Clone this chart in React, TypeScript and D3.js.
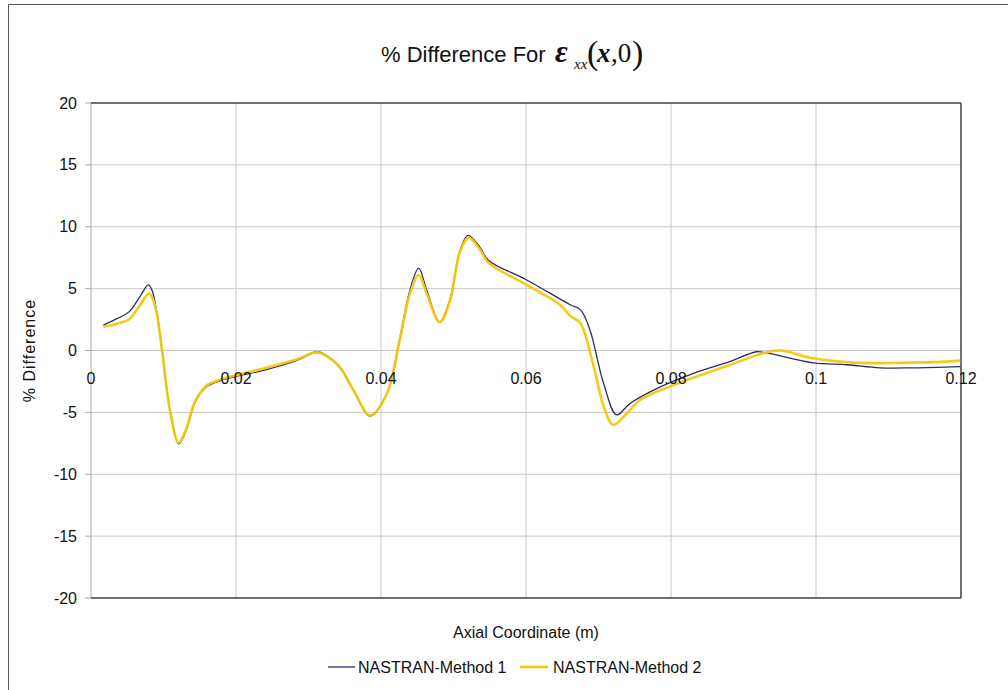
import React from "react";
import * as d3 from "d3";

// Axial coordinate (m) and % difference for each method
const method1X = [0.0017, 0.0035, 0.0052, 0.0068, 0.0079, 0.0084, 0.0091, 0.0098, 0.011, 0.0121, 0.0131, 0.0143, 0.0158, 0.0178, 0.02, 0.0238, 0.0284, 0.0311, 0.0325, 0.0343, 0.0362, 0.0385, 0.0408, 0.0426, 0.044, 0.0452, 0.0463, 0.0481, 0.0495, 0.0509, 0.052, 0.0537, 0.0548, 0.0601, 0.0661, 0.0675, 0.0688, 0.0707, 0.0725, 0.0743, 0.0776, 0.0831, 0.0881, 0.0918, 0.0932, 0.0996, 0.1043, 0.1088, 0.1134, 0.1199];
const method1Y = [2.05, 2.55, 3.1, 4.4, 5.3, 4.9, 3.0, 0.0, -5.2, -7.55, -6.5, -4.27, -3.0, -2.45, -2.1, -1.6, -0.8, -0.1, -0.4, -1.3, -3.2, -5.3, -3.5, 1.0, 4.9, 6.65, 4.9, 2.3, 4.1, 8.1, 9.3, 8.3, 7.3, 5.7, 3.7, 3.3, 1.7, -2.65, -5.2, -4.3, -3.2, -1.85, -0.9, -0.1, -0.2, -1.0, -1.15, -1.4, -1.4, -1.3];

const method2X = [0.0017, 0.0035, 0.0052, 0.0068, 0.008, 0.0085, 0.0091, 0.0098, 0.011, 0.0121, 0.0131, 0.0143, 0.0158, 0.0178, 0.02, 0.0238, 0.0284, 0.0311, 0.0325, 0.0343, 0.0362, 0.0385, 0.0408, 0.0426, 0.044, 0.0452, 0.0463, 0.0481, 0.0495, 0.0509, 0.0521, 0.0537, 0.0548, 0.0601, 0.0647, 0.0661, 0.0675, 0.0693, 0.0707, 0.072, 0.0739, 0.0757, 0.0803, 0.0881, 0.0927, 0.095, 0.0996, 0.1051, 0.1118, 0.118, 0.1199];
const method2Y = [1.92, 2.15, 2.5, 3.7, 4.6, 4.2, 2.9, 0.0, -5.2, -7.45, -6.4, -4.2, -2.9, -2.35, -2.0, -1.45, -0.7, -0.15, -0.45, -1.35, -3.2, -5.25, -3.5, 0.9, 4.6, 6.1, 4.6, 2.3, 4.0, 8.0, 9.1, 8.1, 7.1, 5.3, 3.7, 2.8, 2.2, -1.2, -4.5, -6.0, -5.1, -4.0, -2.8, -1.17, -0.23, 0.0, -0.63, -0.98, -1.0, -0.9, -0.82];

const xTicks = [0, 0.02, 0.04, 0.06, 0.08, 0.1, 0.12];
const xTickLabels = ["0", "0.02", "0.04", "0.06", "0.08", "0.1", "0.12"];
const yTicks = [20, 15, 10, 5, 0, -5, -10, -15, -20];

const seriesNames = ["NASTRAN-Method 1", "NASTRAN-Method 2"];
const seriesColors = ["#2b2d6b", "#f2c80c"];

const W = 1008;
const H = 690;
const plot = { left: 91, right: 961, top: 103, bottom: 598 };
const sans = "'Liberation Sans', Arial, sans-serif";
const serif = "'Liberation Serif', 'Times New Roman', serif";

export default function App() {
  const x = d3.scaleLinear().domain([0, 0.12]).range([plot.left, plot.right]);
  const y = d3.scaleLinear().domain([-20, 20]).range([plot.bottom, plot.top]);

  const line = d3
    .line<[number, number]>()
    .x((d) => x(d[0]))
    .y((d) => y(d[1]))
    .curve(d3.curveCatmullRom.alpha(0.5));

  const s1 = method1X.map((v, i) => [v, method1Y[i]] as [number, number]);
  const s2 = method2X.map((v, i) => [v, method2Y[i]] as [number, number]);

  return (
    <svg
      width={W}
      height={H}
      style={{ position: "absolute", left: 0, top: 0, background: "#fff" }}
    >
      <rect x={0} y={0} width={W} height={H} fill="#fff" />
      {/* chart area frame */}
      <line x1={8.5} y1={4.5} x2={8.5} y2={H} stroke="#555" strokeWidth={1} />
      <line x1={8.5} y1={4.5} x2={W} y2={4.5} stroke="#555" strokeWidth={1} />

      {/* title */}
      <text x={381} y={62} fontFamily={sans} fontSize={22} fill="#111">
        % Difference For
      </text>
      <text x={555} y={62} fontFamily={serif} fontSize={31} fontWeight="bold" fontStyle="italic" fill="#111">
        ε
      </text>
      <text x={574} y={69} fontFamily={serif} fontSize={15} fontStyle="italic" fill="#111">
        xx
      </text>
      <text x={587} y={64} fontFamily={serif} fontSize={34} fill="#111">
        (
      </text>
      <text x={597} y={62} fontFamily={serif} fontSize={27} fontWeight="bold" fontStyle="italic" fill="#111">
        x
      </text>
      <text x={611} y={62} fontFamily={serif} fontSize={27} fill="#111">
        ,0
      </text>
      <text x={632} y={64} fontFamily={serif} fontSize={34} fill="#111">
        )
      </text>

      {/* gridlines */}
      {yTicks
        .filter((t) => t !== 20 && t !== -20)
        .map((t) => (
          <line key={"gy" + t} x1={plot.left} x2={plot.right} y1={y(t)} y2={y(t)} stroke="#c8c8c8" strokeWidth={1} />
        ))}
      {xTicks
        .filter((t) => t !== 0 && t !== 0.12)
        .map((t) => (
          <line key={"gx" + t} x1={x(t)} x2={x(t)} y1={plot.top} y2={plot.bottom} stroke="#c8c8c8" strokeWidth={1} />
        ))}

      {/* y axis line and ticks */}
      <line x1={plot.left} x2={plot.left} y1={plot.top} y2={plot.bottom} stroke="#a8a8a8" strokeWidth={1} />
      {yTicks.map((t) => (
        <line key={"ty" + t} x1={plot.left - 6} x2={plot.left} y1={y(t)} y2={y(t)} stroke="#a8a8a8" strokeWidth={1} />
      ))}

      {/* plot frame */}
      <line x1={plot.left} x2={plot.right} y1={plot.top} y2={plot.top} stroke="#404040" strokeWidth={1.5} />
      <line x1={plot.left} x2={plot.right} y1={plot.bottom} y2={plot.bottom} stroke="#404040" strokeWidth={1.5} />
      <line x1={plot.right} x2={plot.right} y1={plot.top} y2={plot.bottom} stroke="#404040" strokeWidth={1.5} />

      {/* series */}
      <path d={line(s1) ?? ""} fill="none" stroke={seriesColors[0]} strokeWidth={1.3} />
      <path d={line(s2) ?? ""} fill="none" stroke={seriesColors[1]} strokeWidth={2.6} strokeOpacity={0.95} />

      {/* tick labels */}
      {yTicks.map((t) => (
        <text key={"ly" + t} x={77} y={y(t)} dy="0.35em" textAnchor="end" fontFamily={sans} fontSize={16} fill="#111">
          {t}
        </text>
      ))}
      {xTicks.map((t, i) => (
        <text key={"lx" + t} x={x(t)} y={384} textAnchor="middle" fontFamily={sans} fontSize={16} fill="#111">
          {xTickLabels[i]}
        </text>
      ))}

      {/* axis titles */}
      <text
        transform={`translate(35,${y(0)}) rotate(-90)`}
        textAnchor="middle"
        fontFamily={sans}
        fontSize={16}
        letterSpacing={1}
        fill="#111"
      >
        % Difference
      </text>
      <text x={526} y={638} textAnchor="middle" fontFamily={sans} fontSize={16} fill="#111">
        Axial Coordinate (m)
      </text>

      {/* legend */}
      <line x1={328} x2={355} y1={667} y2={667} stroke={seriesColors[0]} strokeWidth={1.3} />
      <text x={358} y={673} fontFamily={sans} fontSize={16} fill="#111">
        {seriesNames[0]}
      </text>
      <line x1={520} x2={548} y1={667} y2={667} stroke={seriesColors[1]} strokeWidth={2.6} />
      <text x={553} y={673} fontFamily={sans} fontSize={16} fill="#111">
        {seriesNames[1]}
      </text>
    </svg>
  );
}
